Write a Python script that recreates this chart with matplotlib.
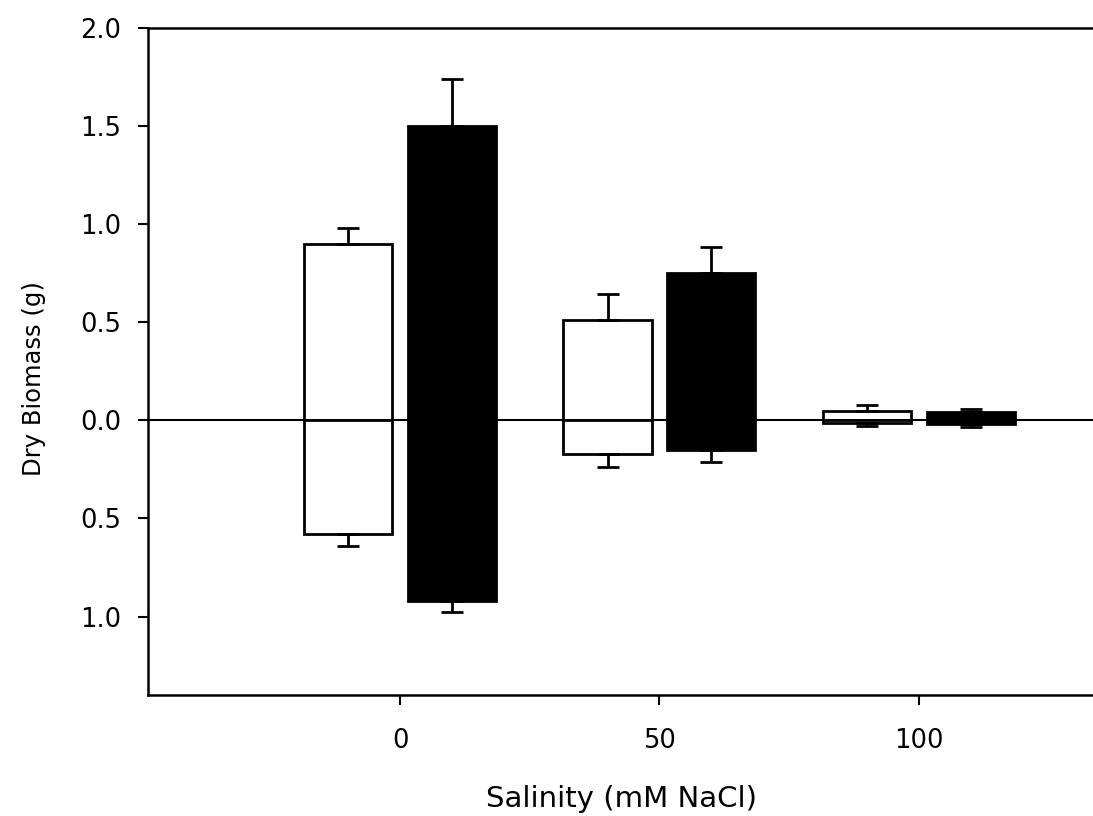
import numpy as np
from matplotlib import pyplot as plt

salinidade = [0, 50, 100]
rotulos_x = ["0", "50", "100"]

# barras brancas (acima e abaixo de zero) e seus erros
branco_pos = [0.90, 0.51, 0.046]
branco_pos_err = [0.08, 0.135, 0.03]
branco_neg = [-0.58, -0.17, -0.015]
branco_neg_err = [0.06, 0.07, 0.012]

# barras pretas
preto_pos = [1.50, 0.75, 0.04]
preto_pos_err = [0.24, 0.135, 0.02]
preto_neg = [-0.92, -0.15, -0.02]
preto_neg_err = [0.055, 0.06, 0.015]

y_ticks = [-1.0, -0.5, 0.0, 0.5, 1.0, 1.5, 2.0]
y_rotulos = ["1.0", "0.5", "0.0", "0.5", "1.0", "1.5", "2.0"]

largura = 17
desloc = 10
x = np.array(salinidade)

fig = plt.figure(figsize=(10.93, 8.16), dpi=100)
ax = fig.add_axes([0.1354, 0.1483, 0.8656, 0.8174])

ax.axhline(0, color="black", lw=1.5, zorder=1)

for xs, pos, pe, neg, ne, cor in [
    (x - desloc, branco_pos, branco_pos_err, branco_neg, branco_neg_err, "white"),
    (x + desloc, preto_pos, preto_pos_err, preto_neg, preto_neg_err, "black"),
]:
    ax.bar(xs, pos, width=largura, color=cor, edgecolor="black", linewidth=2, zorder=2)
    ax.bar(xs, neg, width=largura, color=cor, edgecolor="black", linewidth=2, zorder=2)
    ax.errorbar(xs, pos, yerr=[np.zeros(3), pe], fmt="none", ecolor="black",
                elinewidth=2, capsize=8, capthick=2, zorder=3)
    ax.errorbar(xs, neg, yerr=[ne, np.zeros(3)], fmt="none", ecolor="black",
                elinewidth=2, capsize=8, capthick=2, zorder=3)

ax.set_xlim(-48.6, 133.8)
ax.set_ylim(-1.4, 2.0)
ax.set_xticks(salinidade)
ax.set_xticklabels(rotulos_x)
ax.set_yticks(y_ticks)
ax.set_yticklabels(y_rotulos)
ax.tick_params(axis="both", direction="out", length=7, width=1.5, labelsize=18.5, color="black")
ax.tick_params(axis="x", pad=17)
ax.tick_params(axis="y", pad=12)

for lado in ["left", "bottom", "top"]:
    ax.spines[lado].set_linewidth(1.8)
ax.spines["right"].set_visible(False)

ax.set_xlabel("Salinity (mM NaCl)", fontsize=21, labelpad=22)
ax.set_ylabel("Dry Biomass (g)", fontsize=17.5)
ax.yaxis.set_label_coords(-0.108, 0.475)

fig.savefig("out.png", dpi=100)
